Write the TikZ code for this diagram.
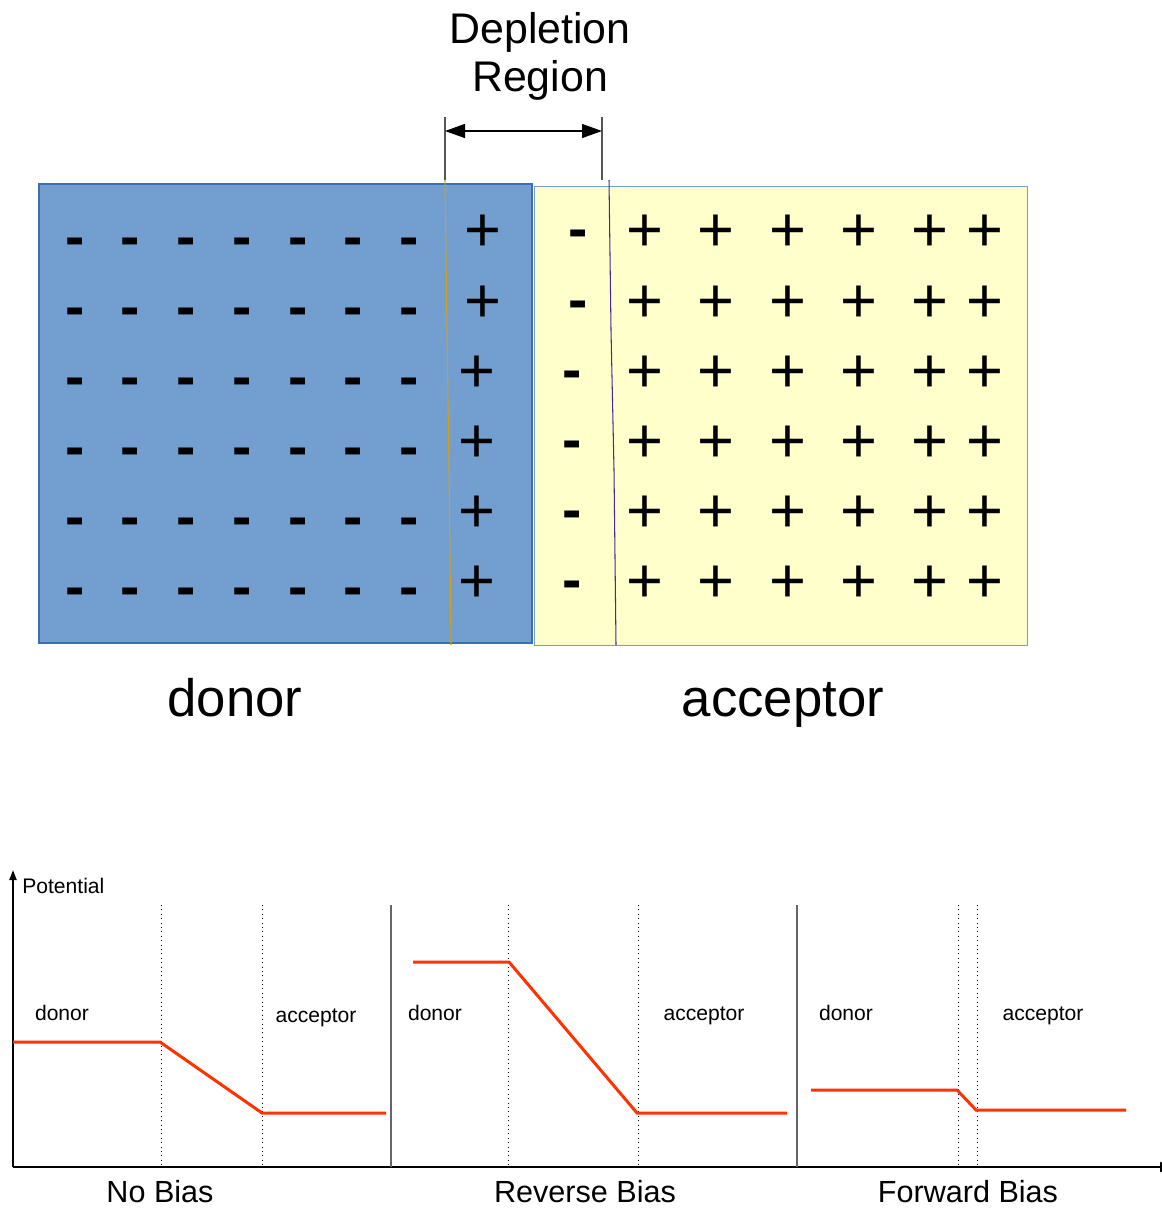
\documentclass[tikz,border=0pt]{standalone}
\usepackage{fontspec}
\setmainfont{Liberation Sans}
\usetikzlibrary{arrows.meta}

\definecolor{donorblue}{HTML}{729FCF}
\definecolor{donoredge}{HTML}{3C6EB4}
\definecolor{accyellow}{HTML}{FFFFCC}
\definecolor{accedge}{HTML}{7A9CC8}
\definecolor{edgeorange}{HTML}{D4A017}
\definecolor{edgepurple}{HTML}{4B2A8C}
\definecolor{potred}{HTML}{FF3300}
\definecolor{dimgray}{HTML}{555555}

\tikzset{
  charge/.style={inner sep=0pt, anchor=base, text=black},
  minussign/.style={charge, font=\fontsize{33}{33}\selectfont\bfseries},
  plussign/.style={charge, font=\fontsize{36}{36}\selectfont},
  biglabel/.style={inner sep=0pt, anchor=base, font=\fontsize{30}{34}\selectfont},
  smalllabel/.style={inner sep=0pt, anchor=base, font=\fontsize{12}{14}\selectfont},
  biaslabel/.style={inner sep=0pt, anchor=base, font=\fontsize{17.4}{20}\selectfont},
  axisline/.style={line width=1.1pt, black},
  divider/.style={line width=0.6pt, gray!80!black},
  dottedguide/.style={line width=0.5pt, dotted, black},
  potline/.style={line width=1.7pt, potred, line join=miter},
  dimline/.style={line width=0.6pt, dimgray},
}

\begin{document}
\begin{tikzpicture}[x=0.02cm, y=-0.02cm]
\useasboundingbox (0,0) rectangle (1161,1209);

% ---- the two doped regions ----
\fill[donorblue] (39,184) rectangle (532,643);
\draw[donoredge, line width=0.8pt] (39,184) rectangle (532,643);
\fill[accyellow] (534,186) rectangle (1027,645);
\draw[accedge, line width=0.5pt] (534,186) rectangle (1027,645);

% edges of the depletion region
\draw[edgeorange, line width=0.6pt] (445,180) -- (447,330) -- (449,470) -- (451,645);
\draw[edgepurple, line width=0.6pt] (609,180) -- (611,330) -- (614,470) -- (616,645);

% ---- dimension marker ----
\node[align=center, inner sep=0pt, font=\fontsize{24.4}{27.3}\selectfont] (title) at (540,56) {Depletion\\Region};
\coordinate (dimLtop) at (445,117);
\coordinate (dimLbot) at (445,180);
\coordinate (dimRtop) at (602,117);
\coordinate (dimRbot) at (602,180);
\coordinate (dimL) at (445,131);
\coordinate (dimR) at (602,131);
\draw[dimline] (dimLtop) -- (dimLbot);
\draw[dimline] (dimRtop) -- (dimRbot);
\draw[line width=0.7pt, {Triangle[length=0.4cm,width=0.28cm]}-{Triangle[length=0.4cm,width=0.28cm]}] (dimL) -- (dimR);

% ---- charges ----
\foreach \yy [count=\r] in {241,311,381,451,521,591}
  \foreach \xx [count=\c] in {75,130,186,242,298,353,409}
    \node[minussign] (dm-\r-\c) at (\xx,\yy+15) {-};

\foreach \xx/\yy [count=\r] in {483/230,483/300,477/370,477/440,477/510,477/580}
  \node[plussign] (dp-\r) at (\xx,\yy+22) {+};

\foreach \xx/\yy [count=\r] in {578/234,578/304,572/374,572/444,572/514,572/584}
  \node[minussign] (am-\r) at (\xx,\yy+15) {-};

\foreach \yy [count=\r] in {230,300,370,440,510,580}
  \foreach \xx [count=\c] in {645,716,788,859,930,985}
    \node[plussign] (ap-\r-\c) at (\xx,\yy+22) {+};

\node[biglabel] (donorlbl) at (235,716) {donor};
\node[biglabel] (acceptorlbl) at (783,716) {acceptor};

% ---- potential diagrams ----
\coordinate (origin) at (13,1167);
\coordinate (ytop) at (13,870);
\coordinate (xend) at (1172,1167);
\draw[axisline, -{Triangle[length=0.2cm,width=0.14cm]}] (origin) -- (ytop);
\draw[axisline, -{Triangle[length=0.24cm,width=0.2cm]}] (origin) -- (xend);
\node[smalllabel, anchor=base west] (potlbl) at (22,893) {Potential};

\foreach \xx in {391,797}
  \draw[divider] (\xx,905) -- (\xx,1167);
\foreach \xx in {161,262,508,638,958,977}
  \draw[dottedguide] (\xx,905) -- (\xx,1167);

% no bias
\coordinate (nb1) at (13,1042);
\coordinate (nb2) at (160,1042);
\coordinate (nb3) at (262,1113);
\coordinate (nb4) at (386,1113);
\draw[potline] (nb1) -- (nb2) -- (nb3) -- (nb4);
% reverse bias
\coordinate (rb1) at (413,962);
\coordinate (rb2) at (509,962);
\coordinate (rb3) at (637,1113);
\coordinate (rb4) at (787,1113);
\draw[potline] (rb1) -- (rb2) -- (rb3) -- (rb4);
% forward bias
\coordinate (fb1) at (811,1090);
\coordinate (fb2) at (957,1090);
\coordinate (fb3) at (976,1110);
\coordinate (fb4) at (1126,1110);
\draw[potline] (fb1) -- (fb2) -- (fb3) -- (fb4);

\node[smalllabel] (nbdonor) at (62,1020) {donor};
\node[smalllabel] (nbacc) at (316,1022) {acceptor};
\node[smalllabel] (rbdonor) at (435,1020) {donor};
\node[smalllabel] (rbacc) at (704,1020) {acceptor};
\node[smalllabel] (fbdonor) at (846,1020) {donor};
\node[smalllabel] (fbacc) at (1043,1020) {acceptor};

\node[biaslabel] (nolbl) at (160,1202) {No Bias};
\node[biaslabel] (revlbl) at (585,1202) {Reverse Bias};
\node[biaslabel] (fwdlbl) at (968,1202) {Forward Bias};
\end{tikzpicture}
\end{document}
